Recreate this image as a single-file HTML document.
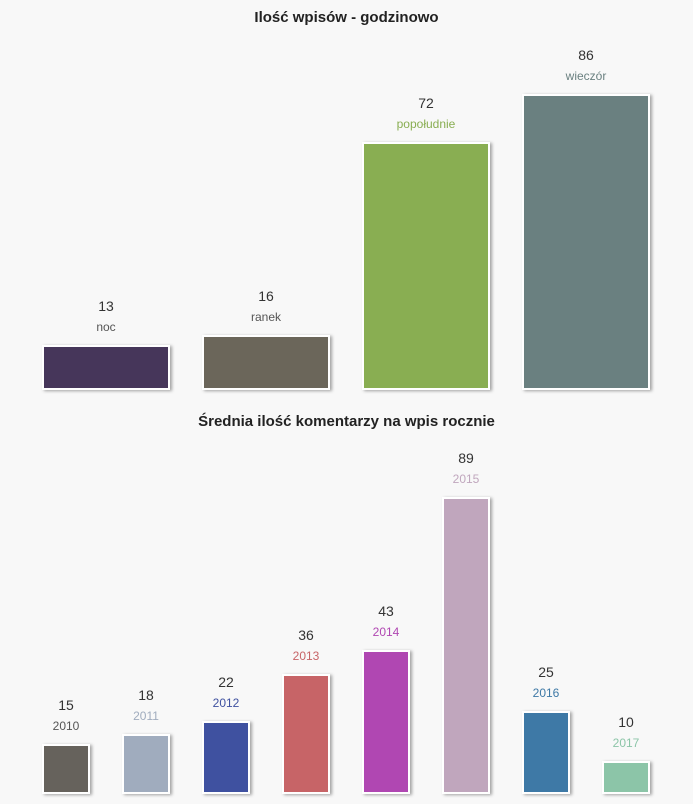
<!DOCTYPE html>
<html><head><meta charset="utf-8"><style>
body{margin:0;width:693px;height:804px;background:#f8f8f8;font-family:"Liberation Sans",sans-serif;position:relative;overflow:hidden}
.t{position:absolute;left:0;width:693px;text-align:center;font-weight:bold;font-size:15px;color:#222}
.bar{position:absolute;box-sizing:border-box;border:2px solid #fff;box-shadow:2px 1px 3px rgba(0,0,0,.35)}
.v{position:absolute;text-align:center;font-size:14px;color:#333}
.c{position:absolute;text-align:center;font-size:12px}
</style></head><body>
<div class="t" style="top:9px">Ilość wpisów - godzinowo</div>
<div class="t" style="top:413px">Średnia ilość komentarzy na wpis rocznie</div>
<script>
const cats1=["noc","ranek","popołudnie","wieczór"];
const vals1=[13,16,72,86];
const cols1=["#46365a","#6b665a","#89ae52","#6a8080"];
const lab1=["#555","#555","#89ae52","#6a8080"];
const cats2=["2010","2011","2012","2013","2014","2015","2016","2017"];
const vals2=[15,18,22,36,43,89,25,10];
const cols2=["#66625c","#a0acbe","#3f51a0","#c76467","#b047b2","#c0a6bd","#3e79a6","#8cc5a8"];
function draw(cats,vals,cols,labc,base,scale,x0,step,w,prefix){
  const b=document.body;
  cats.forEach((c,i)=>{
    const h=vals[i]*scale,x=x0+i*step,top=base-h;
    const r=document.createElement('div');r.className='bar';
    
    
    r.style.cssText=`left:${x}px;top:${top}px;width:${w}px;height:${h}px;background:${cols[i]}`;b.appendChild(r);
    const v=document.createElement('div');v.className='v';
    
    
    v.style.cssText=`left:${x-20}px;width:${w+40}px;top:${top-47}px`;v.textContent=vals[i];b.appendChild(v);
    const l=document.createElement('div');l.className='c';
    
    
    l.style.cssText=`left:${x-20}px;width:${w+40}px;top:${top-25}px;color:${labc[i]}`;l.textContent=c;b.appendChild(l);
  });
}
draw(cats1,vals1,cols1,lab1,390,3.44,42,160,128,'hourly');
draw(cats2,vals2,cols2,cols2.map((c,i)=>i==0?"#555":c),794,3.34,42,80,48,'yearly');
</script>
</body></html>
